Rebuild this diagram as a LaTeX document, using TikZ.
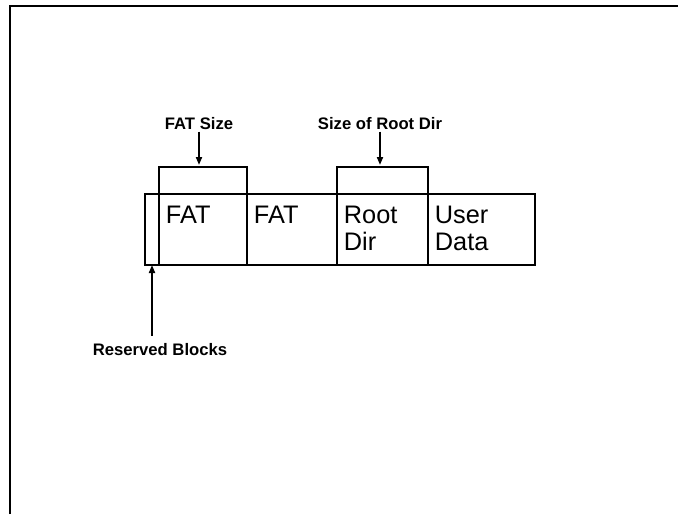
\documentclass[tikz,border=0pt]{standalone}
\usepackage{fontspec}
\setmainfont{Liberation Sans}
\usetikzlibrary{positioning,arrows.meta}

\begin{document}
\begin{tikzpicture}[
        x=0.75pt, y=-0.75pt,
        >={Triangle[length=6pt,width=4.5pt]},
        cell/.style={
            rectangle,
            draw=black,
            line width=0.9pt,
            outer sep=0pt,
            inner sep=0pt,
            minimum height=53.25pt,
            minimum width=#1
        },
        celltext/.style={
            anchor=north west,
            inner sep=0pt,
            align=left,
            font=\fontsize{19}{20.25}\selectfont
        },
        lab/.style={
            font=\bfseries\fontsize{12.5}{15}\selectfont,
            inner sep=1pt
        },
        bracket/.style={line width=1.5pt},
        flow/.style={->, line width=1.4pt},
        frame/.style={line width=1.5pt}
    ]

        \useasboundingbox (0,0) rectangle (678,514);

        % Page frame
        \draw[frame] (10,514) -- (10,6) -- (678,6);

        % Disk layout
        \node[cell=10.5pt, anchor=north west] (rsv) at (145,194) {};
        \node[cell=66pt, right=0pt of rsv] (fat1) {};
        \node[cell=67.5pt, right=0pt of fat1] (fat2) {};
        \node[cell=68.25pt, right=0pt of fat2] (root) {};
        \node[cell=80.25pt, right=0pt of root] (usr) {};
        \draw[line width=1.5pt] (rsv.north west) rectangle (usr.south east);

        % Cell texts
        \node[celltext] (t1) at ([xshift=5pt, yshift=-8.5pt]fat1.north west) {FAT};
        \node[celltext] (t2) at ([xshift=5pt, yshift=-8.5pt]fat2.north west) {FAT};
        \node[celltext] (t3) at ([xshift=5pt, yshift=-8.5pt]root.north west) {Root\\Dir};
        \node[celltext] (t4) at ([xshift=5pt, yshift=-8.5pt]usr.north west) {User\\Data};

        % Brackets
        \coordinate (b1) at ([yshift=20.25pt]fat1.north west);
        \coordinate (b2) at ([yshift=20.25pt]root.north west);
        \draw[bracket] (fat1.north west) -- (b1) -| (fat1.north east);
        \draw[bracket] (root.north west) -- (b2) -| (root.north east);

        % Labels
        \node[lab] (fatsz) at (199,124) {FAT Size};
        \node[lab] (rootsz) at (380,124) {Size of Root Dir};
        \node[lab] (rsvlab) at (160,350) {Reserved Blocks};
        \coordinate (rsvtop) at ([yshift=5pt]rsvlab.north);

        % Arrows
        \draw[flow, shorten >=1.5pt] (fatsz.south) -- (fatsz.south |- b1);
        \draw[flow, shorten >=1.5pt] (rootsz.south) -- (rootsz.south |- b2);
        \draw[flow] (rsv.south |- rsvtop) -- (rsv.south);

    \end{tikzpicture}
\end{document}
